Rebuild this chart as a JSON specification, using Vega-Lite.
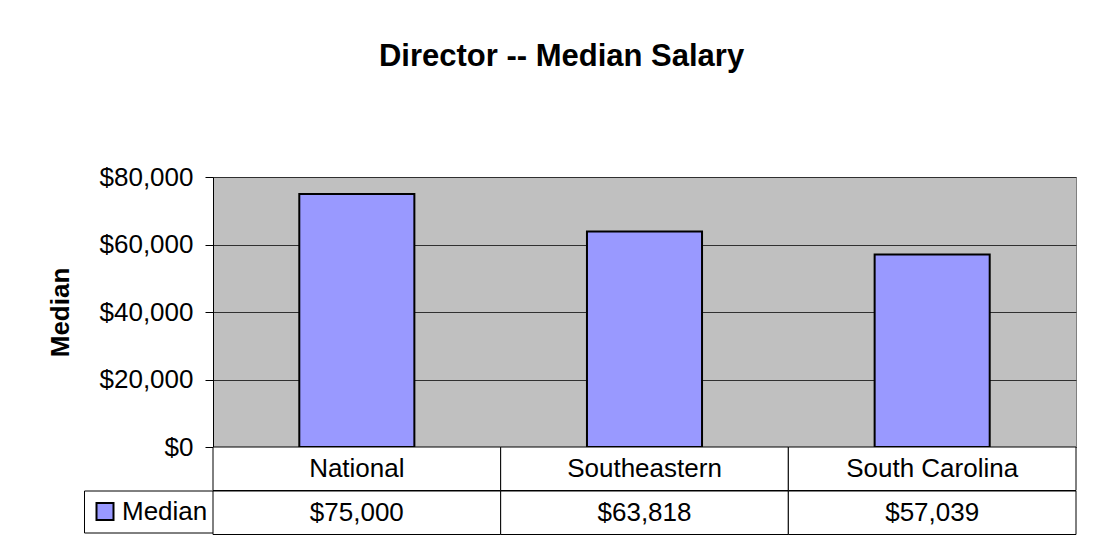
{
  "$schema": "https://vega.github.io/schema/vega-lite/v6.json",
  "padding": {"left": 46, "top": 40, "right": 0, "bottom": 0},
  "background": "white",
  "title": {
    "text": "Director -- Median Salary",
    "font": "Liberation Sans",
    "fontSize": 31,
    "fontWeight": "bold",
    "color": "black",
    "anchor": "middle",
    "offset": 91
  },
  "data": {
    "values": [
      {"region": "National", "median": 75000, "series": "Median"},
      {"region": "Southeastern", "median": 63818, "series": "Median"},
      {"region": "South Carolina", "median": 57039, "series": "Median"}
    ]
  },
  "vconcat": [
    {
      "width": 863,
      "height": 270,
      "view": {"fill": "#C0C0C0", "stroke": "#808080", "strokeWidth": 1},
      "mark": {"type": "bar", "stroke": "black", "strokeWidth": 2},
      "encoding": {
        "x": {
          "field": "region",
          "type": "nominal",
          "sort": null,
          "scale": {"paddingInner": 0.6, "paddingOuter": 0.3},
          "axis": null
        },
        "y": {
          "field": "median",
          "type": "quantitative",
          "scale": {"domain": [0, 80000], "nice": false},
          "axis": {
            "title": "Median",
            "titleFont": "Liberation Sans",
            "titleFontSize": 26,
            "titleFontWeight": "bold",
            "titleColor": "black",
            "titlePadding": 26,
            "values": [0, 20000, 40000, 60000, 80000],
            "format": "$,.0f",
            "labelFont": "Liberation Sans",
            "labelFontSize": 26,
            "labelColor": "black",
            "labelPadding": 12,
            "tickSize": 8,
            "tickColor": "black",
            "domainColor": "black",
            "grid": true,
            "gridColor": "#303030"
          }
        },
        "fill": {
          "field": "series",
          "type": "nominal",
          "scale": {"range": ["#9999FF"]},
          "legend": {
            "title": null,
            "orient": "none",
            "legendX": -129,
            "legendY": 313.5,
            "strokeColor": "black",
            "fillColor": "white",
            "padding": 8,
            "symbolType": "square",
            "symbolSize": 289,
            "symbolStrokeColor": "black",
            "symbolStrokeWidth": 2,
            "symbolOpacity": 1,
            "labelFont": "Liberation Sans",
            "labelFontSize": 26,
            "labelColor": "black",
            "labelOffset": 4,
            "labelExpr": "datum.label + ' '"
          }
        }
      }
    },
    {
      "width": 863,
      "height": 43.5,
      "view": {"stroke": null, "fill": "white"},
      "encoding": {
        "x": {
          "field": "region",
          "type": "nominal",
          "sort": null,
          "scale": {"paddingInner": 0, "paddingOuter": 0},
          "axis": null
        }
      },
      "layer": [
        {"mark": {"type": "rect", "fill": "white", "stroke": "black", "strokeWidth": 1}},
        {
          "mark": {"type": "text", "font": "Liberation Sans", "fontSize": 26, "color": "black", "baseline": "middle", "align": "center"},
          "encoding": {"text": {"field": "region", "type": "nominal"}}
        }
      ]
    },
    {
      "width": 863,
      "height": 43.5,
      "view": {"stroke": null, "fill": "white"},
      "encoding": {
        "x": {
          "field": "region",
          "type": "nominal",
          "sort": null,
          "scale": {"paddingInner": 0, "paddingOuter": 0},
          "axis": null
        }
      },
      "layer": [
        {"mark": {"type": "rect", "fill": "white", "stroke": "black", "strokeWidth": 1}},
        {
          "mark": {"type": "text", "font": "Liberation Sans", "fontSize": 26, "color": "black", "baseline": "middle", "align": "center"},
          "encoding": {"text": {"field": "median", "type": "quantitative", "format": "$,.0f"}}
        }
      ]
    }
  ],
  "spacing": 0,
  "bounds": "flush",
  "resolve": {"scale": {"fill": "independent", "x": "independent"}}
}
